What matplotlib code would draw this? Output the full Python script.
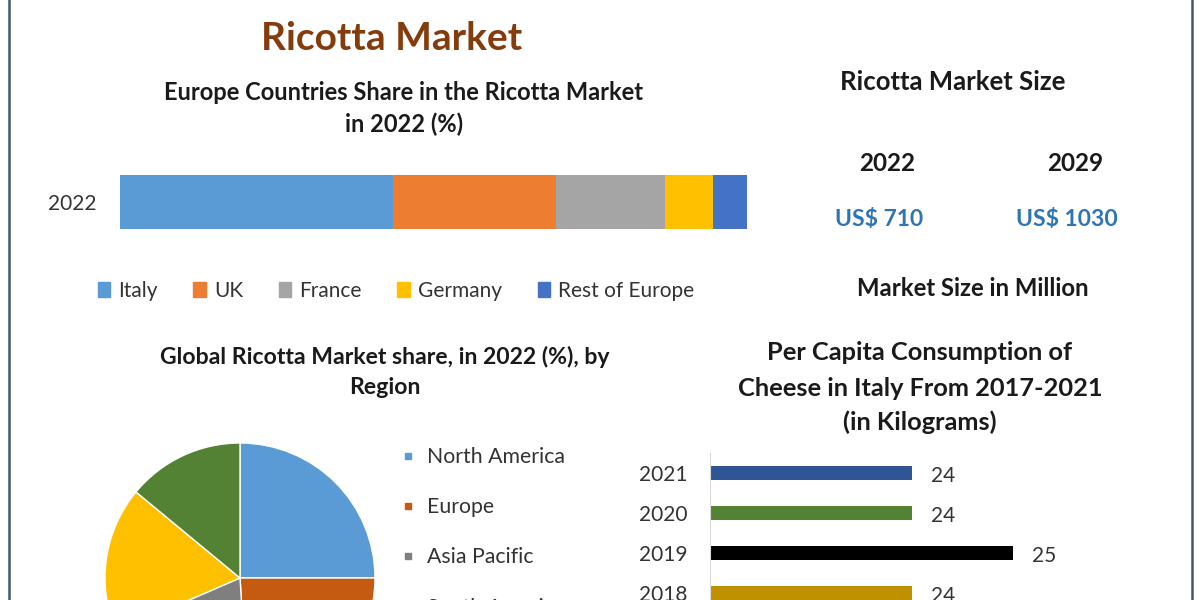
import matplotlib
matplotlib.use("Agg")
import matplotlib.pyplot as plt
from matplotlib.lines import Line2D
from matplotlib.patches import Patch

plt.rcParams['font.family'] = ['Lato', 'DejaVu Sans']

# europe share, 2022 (%)
eu_countries = ['Italy', 'UK', 'France', 'Germany', 'Rest of Europe']
eu_share = [43.5, 26.0, 17.5, 7.5, 5.5]
eu_colors = ['#5B9BD5', '#ED7D31', '#A5A5A5', '#FFC000', '#4472C4']

# global share by region (%)
regions = ['North America', 'Europe', 'Asia Pacific', 'South America', 'Middle East and Africa']
region_share = [25.0, 24.0, 19.5, 17.5, 14.0]
region_colors = ['#5B9BD5', '#C55A11', '#7F7F7F', '#FFC000', '#548235']

# per capita cheese consumption, Italy (kg)
years = ['2017', '2018', '2019', '2020', '2021']
per_capita = [24, 24, 25, 24, 24]
year_colors = ['#ED7D31', '#BF9000', '#000000', '#548235', '#2F5597']

# market size
size_years = ['2022', '2029']
size_values = ['US$ 710', 'US$ 1030']

W, H = 1200, 600
fig = plt.figure(figsize=(12, 6), dpi=100)


def px(x, y):
    return x / W, 1 - y / H


def box(l, t, r, b):
    return [l / W, 1 - b / H, (r - l) / W, (b - t) / H]


dark = '#1A1A1A'
fig.text(*px(392, 38), 'Ricotta Market', ha='center', va='center',
         fontsize=28, fontweight='bold', color='#843C0C')
fig.text(*px(404, 92), 'Europe Countries Share in the Ricotta Market', ha='center',
         va='center', fontsize=17, fontweight='bold', color=dark)
fig.text(*px(404, 124), 'in 2022 (%)', ha='center', va='center',
         fontsize=17, fontweight='bold', color=dark)

# stacked bar
ax1 = fig.add_axes(box(120, 175, 747, 229))
left = 0
for name, v, c in zip(eu_countries, eu_share, eu_colors):
    ax1.barh([0], [v], left=left, height=1.0, color=c, label=name)
    left += v
ax1.set_xlim(0, 100)
ax1.set_ylim(-0.5, 0.5)
ax1.set_yticks([0])
ax1.set_yticklabels(['2022'], fontsize=15, color='#333333')
ax1.tick_params(axis='y', length=0, pad=17)
ax1.set_xticks([])
for s in ax1.spines.values():
    s.set_visible(False)

h1 = [Patch(color=c) for c in eu_colors]
fig.legend(h1, eu_countries, loc='center', bbox_to_anchor=px(396, 291), ncol=5,
           frameon=False, fontsize=15, handlelength=0.6, handleheight=0.7,
           handletextpad=0.4, columnspacing=1.7, labelcolor='#333333')

# market size panel
fig.text(*px(953, 82), 'Ricotta Market Size', ha='center', va='center',
         fontsize=18.5, fontweight='bold', color=dark)
for x, yr, val in zip([887, 1075], size_years, size_values):
    fig.text(*px(x, 163), yr, ha='center', va='center', fontsize=17.5,
             fontweight='bold', color=dark)
    fig.text(*px(x - 8, 220), val, ha='center', va='center', fontsize=16.5,
             fontweight='bold', color='#2E75B6')
fig.text(*px(973, 289), 'Market Size in Million', ha='center', va='center',
         fontsize=17.2, fontweight='bold', color=dark)

# pie
fig.text(*px(385, 357), 'Global Ricotta Market share, in 2022 (%), by', ha='center',
         va='center', fontsize=16.6, fontweight='bold', color=dark)
fig.text(*px(385, 387), 'Region', ha='center', va='center', fontsize=16.6,
         fontweight='bold', color=dark)
ax2 = fig.add_axes(box(105, 443, 375, 713))
ax2.pie(region_share, colors=region_colors, startangle=90, counterclock=False,
        wedgeprops=dict(edgecolor='white', linewidth=1))
ax2.set_xlim(-1, 1)
ax2.set_ylim(-1, 1)
ax2.set_aspect('equal')

h2 = [Line2D([], [], marker='s', linestyle='none', markersize=5,
             markerfacecolor=c, markeredgecolor=c) for c in region_colors]
fig.legend(h2, regions, loc='upper left', bbox_to_anchor=px(382, 428), frameon=False,
           fontsize=15.3, labelspacing=1.42, handlelength=0.6, handletextpad=0.6,
           labelcolor='#333333')

# per capita bars
for y, line in zip([353, 388, 422], ['Per Capita Consumption of',
                                     'Cheese in Italy From 2017-2021',
                                     '(in Kilograms)']):
    fig.text(*px(920, y), line, ha='center', va='center',
             fontsize=18.3, fontweight='bold', color=dark)
ax3 = fig.add_axes(box(710, 453, 1114, 653))
ypos = list(range(len(years)))
ax3.barh(ypos, per_capita, height=0.35, color=year_colors, left=0)
for y, v in zip(ypos, per_capita):
    ax3.annotate(str(v), (v, y), xytext=(14, -2), textcoords='offset points',
                 ha='left', va='center', fontsize=15, color='#333333')
ax3.set_xlim(22, 26)
ax3.set_ylim(-0.5, 4.5)
ax3.set_yticks(ypos)
ax3.set_yticklabels(years, fontsize=15, color='#333333')
ax3.tick_params(axis='y', length=0, pad=16)
ax3.set_xticks([])
for k in ['top', 'right', 'bottom']:
    ax3.spines[k].set_visible(False)
ax3.spines['left'].set_color('#D9D9D9')

# frame lines
for x in [9, 1192]:
    fig.add_artist(Line2D([x / W, x / W], [0, 1], color='#41596B', linewidth=1.8))

fig.savefig('out.png', dpi=100)
